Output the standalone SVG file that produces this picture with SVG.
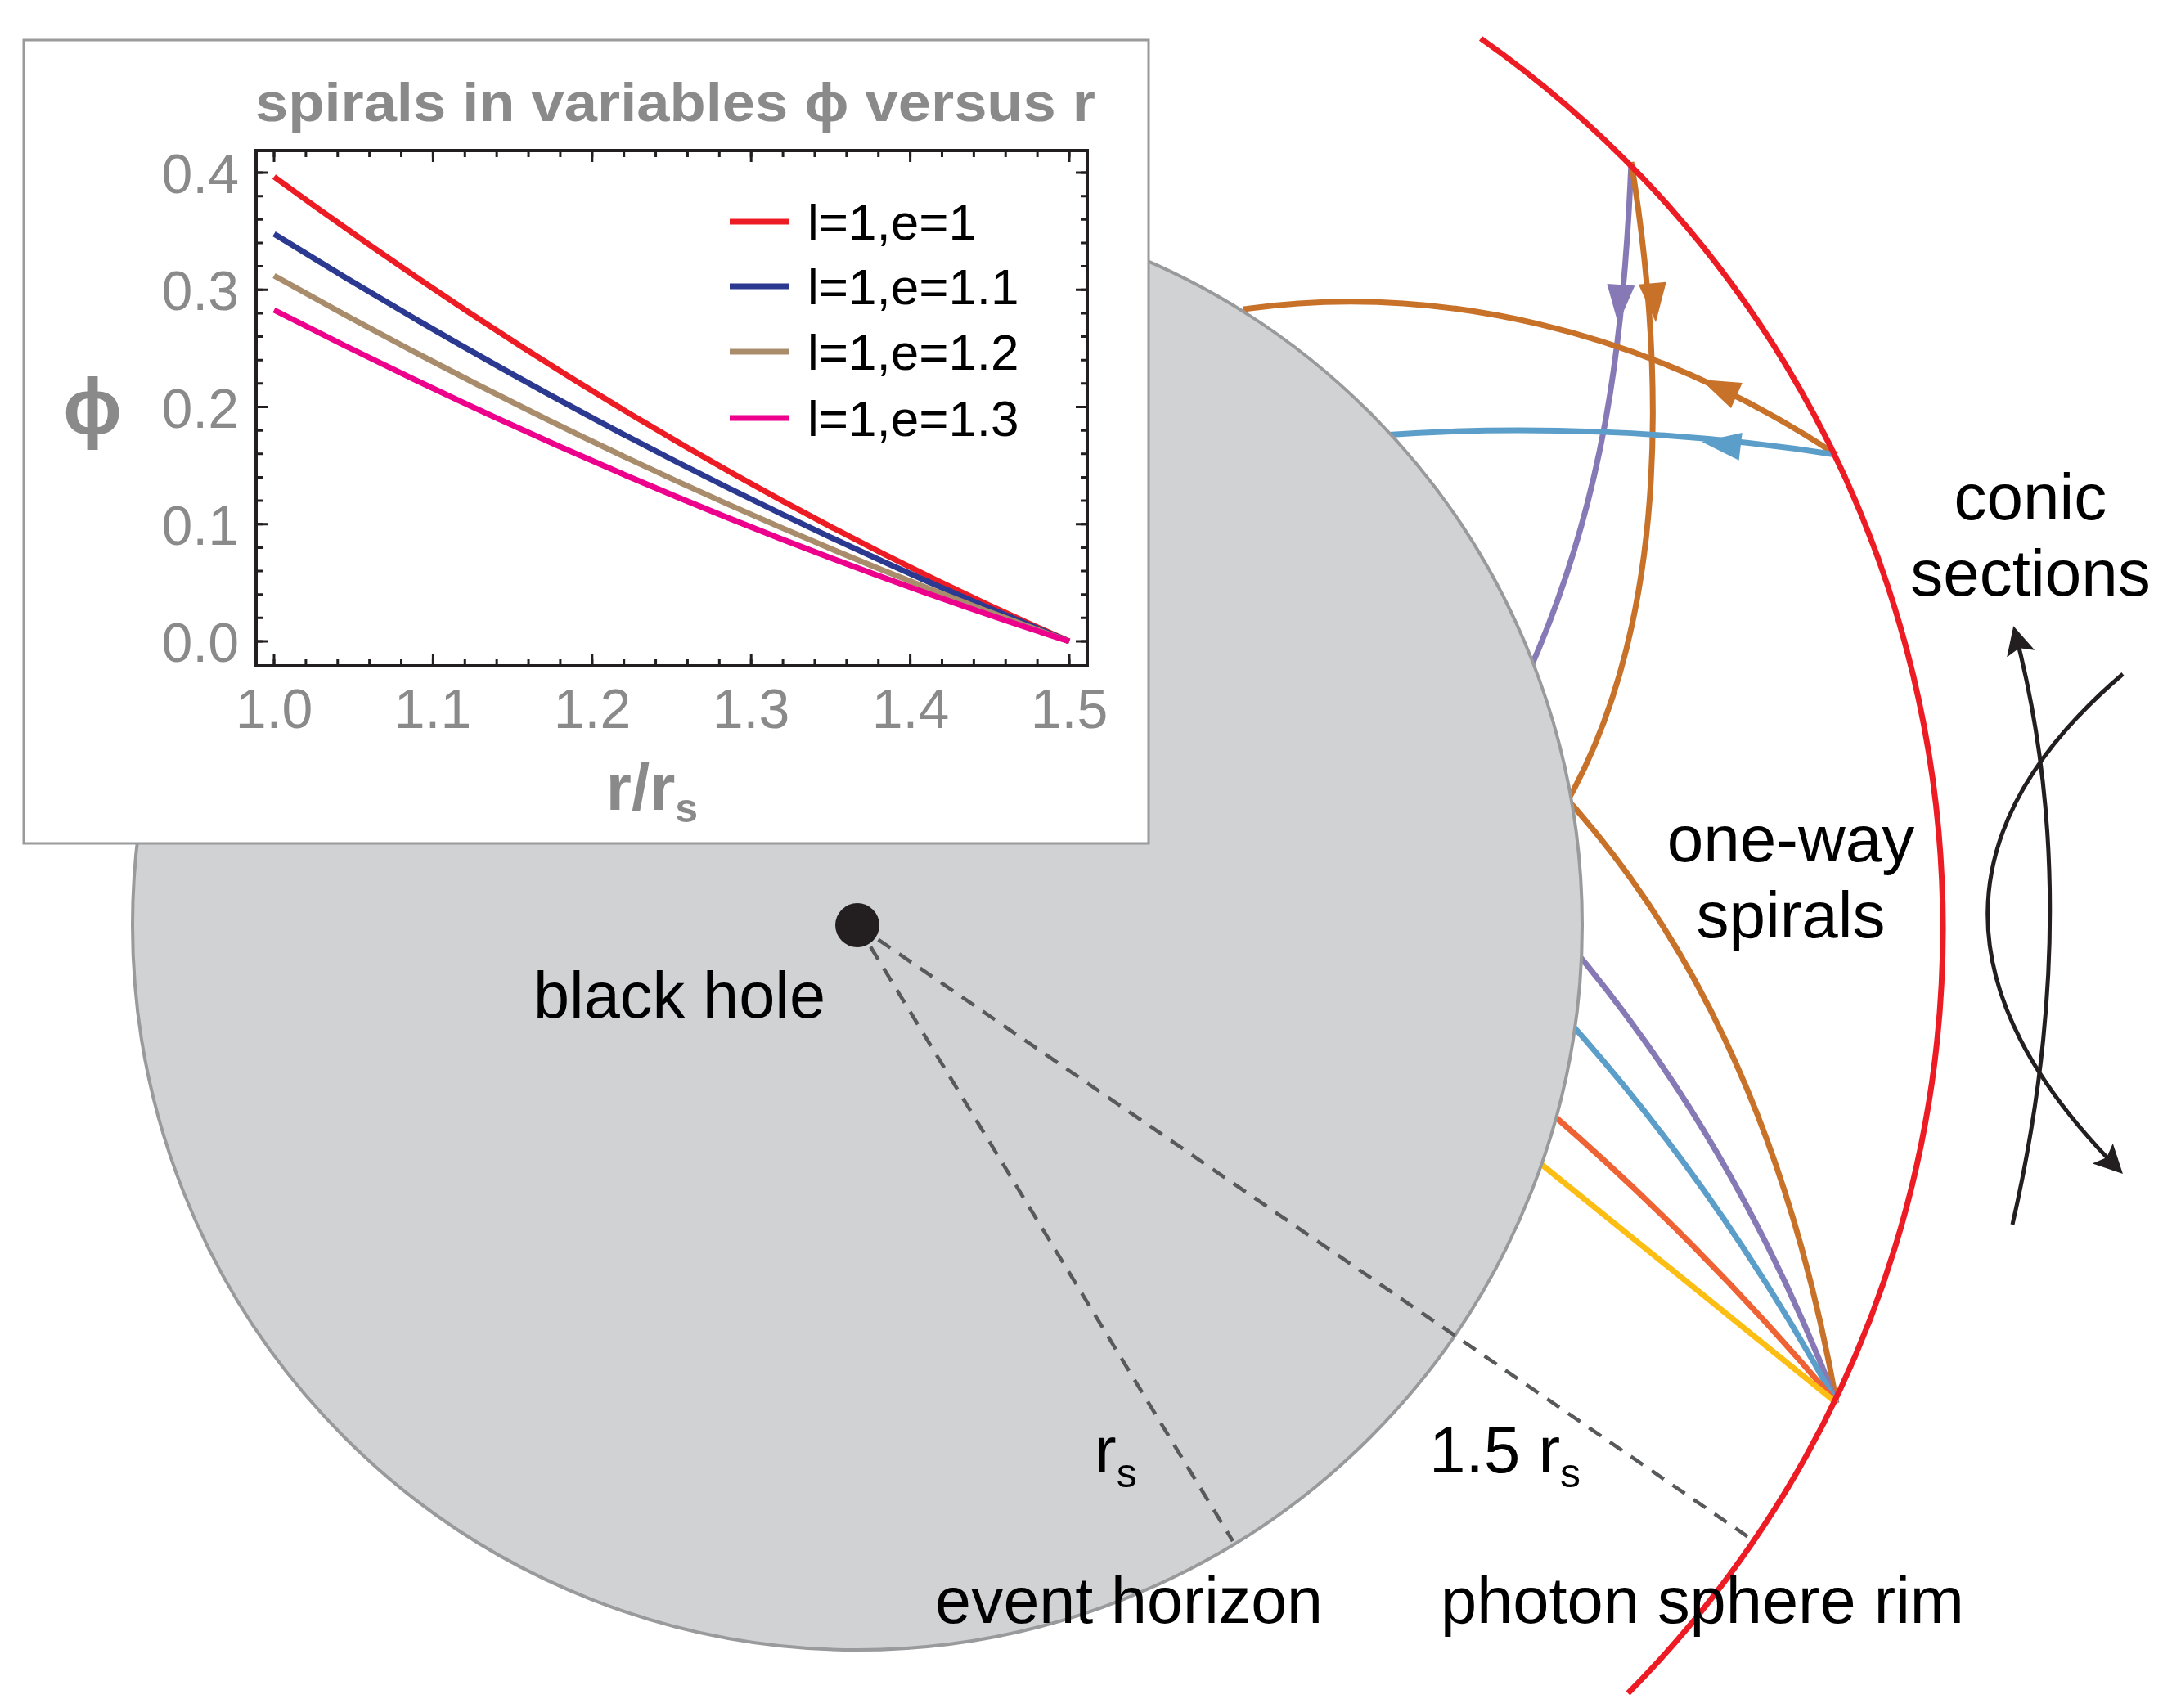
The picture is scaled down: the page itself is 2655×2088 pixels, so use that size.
<svg xmlns="http://www.w3.org/2000/svg" width="2655" height="2088" viewBox="0 0 2655 2088">
<style>
.t{font-family:"Liberation Sans",Arial,sans-serif;fill:#000}
.g{font-family:"Liberation Sans",Arial,sans-serif;fill:#8a8a8a}
.sp{fill:none;stroke-width:7}
.tk{fill:none;stroke:#231F20}
</style>
<defs>
<path id="ah" d="M0,0 L-17,-48 L17,-48 Z"/>
<marker id="ba" viewBox="0 0 10 10" refX="8" refY="5" markerWidth="7" markerHeight="7" orient="auto" markerUnits="strokeWidth"><path d="M0,0 L10,5 L0,10 L2,5 Z" fill="#231F20"/></marker>
</defs>
<rect width="2655" height="2088" fill="#fff"/>
<g id="connectors">
<path class="sp" stroke="#C87129" d="M1900,960 Q2160,1237 2245,1715"/>
<path class="sp" stroke="#8779B5" d="M1915,1150 Q2120,1390 2245,1715"/>
<path class="sp" stroke="#5B9EC9" d="M1910,1240 Q2100,1450 2245,1715"/>
<path class="sp" stroke="#EE6234" d="M1895,1360 Q2080,1520 2245,1715"/>
<path class="sp" stroke="#FDBE14" d="M1880,1420 L2245,1715"/>
<path class="sp" stroke="#8779B5" d="M1994,198 C1985,420 1960,620 1865,830"/>
<path class="sp" stroke="#C87129" d="M1994,198 C2030,420 2050,750 1910,990"/>
<path class="sp" stroke="#C87129" d="M2245,556 C2010,400 1750,345 1520,378"/>
<path class="sp" stroke="#5B9EC9" d="M2245,556 C2050,525 1850,520 1690,532"/>
<use href="#ah" fill="#8779B5" transform="translate(1978,396) rotate(4)"/>
<use href="#ah" fill="#C87129" transform="translate(2024,394) rotate(-5)"/>
<use href="#ah" fill="#C87129" transform="translate(2079,464) rotate(114)"/>
<use href="#ah" fill="#5B9EC9" transform="translate(2080,540) rotate(97)"/>
<path fill="none" stroke="#231F20" stroke-width="5" marker-end="url(#ba)" d="M2460,1497 Q2550,1103 2463,772"/>
<path fill="none" stroke="#231F20" stroke-width="5" marker-end="url(#ba)" d="M2595,824 Q2267,1104 2590,1430"/>
</g>
<g id="event-horizon"><circle cx="1048" cy="1131" r="886" fill="#D1D2D4" stroke="#999a9c" stroke-width="4"/></g>
<g id="photon-sphere"><path fill="none" stroke="#ED1C24" stroke-width="7" d="M1810,47 A1329,1329 0 0 1 1990,2070"/></g>
<g id="radii">
<path fill="none" stroke="#58595B" stroke-width="4.5" stroke-dasharray="18,13" d="M1048,1131 L1507,1884 M1048,1131 L2137,1879"/>
</g>
<g id="black-hole"><circle cx="1048" cy="1131" r="27" fill="#231F20"/>
<text class="t" x="652" y="1244" font-size="80" textLength="357" lengthAdjust="spacingAndGlyphs">black hole</text></g>
<g id="labels">
<text class="t" x="1338" y="1800" font-size="80">r<tspan font-size="50" dy="18">s</tspan></text>
<text class="t" x="1747" y="1800" font-size="80">1.5 r<tspan font-size="50" dy="18">s</tspan></text>
<text class="t" x="1143" y="1984" font-size="80" textLength="474" lengthAdjust="spacingAndGlyphs">event horizon</text>
<text class="t" x="1761" y="1984" font-size="80" textLength="640" lengthAdjust="spacingAndGlyphs">photon sphere rim</text>
<text class="t" x="2189" y="1053" font-size="80" text-anchor="middle">one-way</text>
<text class="t" x="2189" y="1146" font-size="80" text-anchor="middle">spirals</text>
<text class="t" x="2482" y="635" font-size="80" text-anchor="middle">conic</text>
<text class="t" x="2482" y="728" font-size="80" text-anchor="middle">sections</text>
</g>
<g id="inset">
<rect x="29" y="49" width="1375" height="982" fill="#fff" stroke="#999a9c" stroke-width="3"/>
<text class="g" x="312" y="148" font-size="66" font-weight="bold" textLength="1027" lengthAdjust="spacingAndGlyphs">spirals in variables ϕ versus r</text>
<path fill="none" stroke-width="7" stroke="#ED1C24" d="M335,216 Q821,572 1307,784"/>
<path fill="none" stroke-width="7" stroke="#2B3990" d="M335,286 Q821,588 1307,784"/>
<path fill="none" stroke-width="7" stroke="#A98C6B" d="M335,337 Q821,610 1307,784"/>
<path fill="none" stroke-width="7" stroke="#EC008C" d="M335,379 Q821,628 1307,784"/>
<rect x="313" y="184" width="1016" height="630" fill="none" stroke="#231F20" stroke-width="4"/>
<g class="tk">
<path stroke-width="8" stroke-dasharray="3 35.88" d="M333.5,188 H1310 M333.5,810 H1310"/>
<path stroke-width="14" stroke-dasharray="3 191.4" d="M333.5,191 H1310 M333.5,807 H1310"/>
<path stroke-width="8" stroke-dasharray="3 25.65" d="M317,209.5 V786 M1325,209.5 V786"/>
<path stroke-width="14" stroke-dasharray="3 140.25" d="M320,209.5 V786 M1322,209.5 V786"/>
</g>
<g class="g" font-size="68" text-anchor="end">
<text x="292" y="236">0.4</text><text x="292" y="379">0.3</text><text x="292" y="523">0.2</text><text x="292" y="666">0.1</text><text x="292" y="809">0.0</text>
</g>
<g class="g" font-size="68" text-anchor="middle">
<text x="335" y="890">1.0</text><text x="529" y="890">1.1</text><text x="724" y="890">1.2</text><text x="918" y="890">1.3</text><text x="1113" y="890">1.4</text><text x="1307" y="890">1.5</text>
</g>
<text class="g" x="797" y="990" font-size="80" font-weight="bold" text-anchor="middle">r/r<tspan font-size="50" dy="15">s</tspan></text>
<text class="g" x="113" y="530" font-size="96" font-weight="bold" text-anchor="middle">ϕ</text>
<g stroke-width="7" fill="none">
<path stroke="#ED1C24" d="M892,271 H965"/><path stroke="#2B3990" d="M892,350 H965"/><path stroke="#A98C6B" d="M892,430 H965"/><path stroke="#EC008C" d="M892,511 H965"/>
</g>
<g class="t" font-size="62">
<text x="987" y="293">l=1,e=1</text><text x="987" y="372">l=1,e=1.1</text><text x="987" y="452">l=1,e=1.2</text><text x="987" y="533">l=1,e=1.3</text>
</g>
</g>
</svg>
